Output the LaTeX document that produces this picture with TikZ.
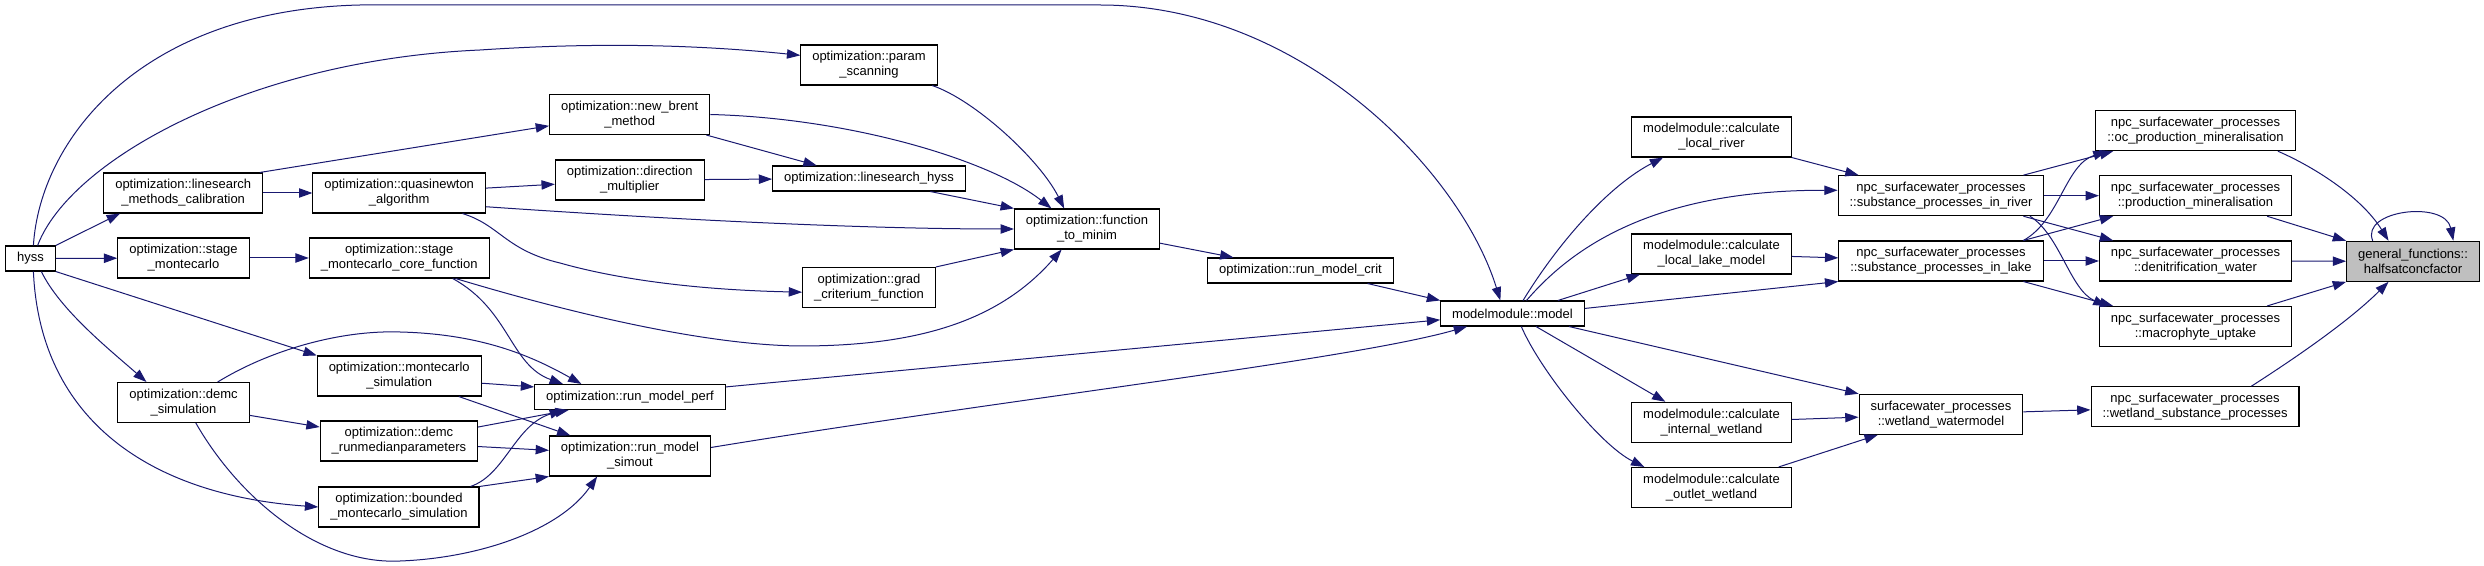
\documentclass[tikz,border=0pt]{standalone}
\usepackage{fontspec}
\setmainfont{Liberation Sans}
\usetikzlibrary{arrows.meta}
\definecolor{edgeblue}{HTML}{191970}
\definecolor{nodegray}{HTML}{BFBFBF}
\newcommand{\optn}{optimization::}
\newcommand{\mmod}{modelmodule::}
\newcommand{\npcs}{npc\_surfacewater\_processes}

\begin{document}
\begin{tikzpicture}[x=0.75pt,y=-0.75pt]
                        \tikzstyle{fn}=[draw, line width=0.8pt, fill=white, align=center, inner xsep=8.6pt, inner ysep=1pt, minimum height=18.75pt, font=\fontsize{9.75pt}{11.25pt}\selectfont]
                        \tikzstyle{fn2}=[fn, minimum height=30pt]
                        \tikzstyle{call}=[edgeblue, line width=0.75pt, -{Triangle[length=10pt,width=7pt]}]
                        \useasboundingbox (0,0) rectangle (2484,566);
                        \node[fn] (hyss) at (30.4,258.5) {hyss};
                        \node[fn2] (lscal) at (183.2,193) {\optn linesearch\\\_methods\_calibration};
                        \node[fn2] (smc) at (183.5,258) {\optn stage\\\_montecarlo};
                        \node[fn2] (demc) at (183.5,402.5) {\optn demc\\\_simulation};
                        \node[fn2] (qnewton) at (399.2,193) {\optn quasinewton\\\_algorithm};
                        \node[fn2] (smccore) at (399.2,258) {\optn stage\\\_montecarlo\_core\_function};
                        \node[fn2] (mcsim) at (399.2,376) {\optn montecarlo\\\_simulation};
                        \node[fn2] (demcmed) at (398.9,441) {\optn demc\\\_runmedianparameters};
                        \node[fn2] (bmcsim) at (398.9,507) {\optn bounded\\\_montecarlo\_simulation};
                        \node[fn2] (brent) at (629.7,114.5) {\optn new\_brent\\\_method};
                        \node[fn2] (dirmult) at (629.7,180) {\optn direction\\\_multiplier};
                        \node[fn] (perf) at (630,397) {\optn run\_model\_perf};
                        \node[fn2] (simout) at (630,456) {\optn run\_model\\\_simout};
                        \node[fn2] (pscan) at (869,65) {\optn param\\\_scanning};
                        \node[fn] (lshyss) at (869,178.5) {\optn linesearch\_hyss};
                        \node[fn2] (gradcrit) at (869,287.5) {\optn grad\\\_criterium\_function};
                        \node[fn2] (fmin) at (1087,229) {\optn function\\\_to\_minim};
                        \node[fn] (crit) at (1300.5,270.5) {\optn run\_model\_crit};
                        \node[fn] (model) at (1512.5,313.5) {\mmod model};
                        \node[fn2] (lriver) at (1711.5,137) {\mmod calculate\\\_local\_river};
                        \node[fn2] (llake) at (1711.5,254) {\mmod calculate\\\_local\_lake\_model};
                        \node[fn2] (iwet) at (1711.5,422.3) {\mmod calculate\\\_internal\_wetland};
                        \node[fn2] (owet) at (1711.5,487.5) {\mmod calculate\\\_outlet\_wetland};
                        \node[fn2] (sriver) at (1941,195.7) {\npcs\\::substance\_processes\_in\_river};
                        \node[fn2] (slake) at (1941,261) {\npcs\\::substance\_processes\_in\_lake};
                        \node[fn2] (wwater) at (1941,414.3) {surfacewater\_processes\\::wetland\_watermodel};
                        \node[fn2] (ocprod) at (2195.5,130.7) {\npcs\\::oc\_production\_mineralisation};
                        \node[fn2] (prodmin) at (2195.5,195.7) {\npcs\\::production\_mineralisation};
                        \node[fn2] (denit) at (2195.5,261) {\npcs\\::denitrification\_water};
                        \node[fn2] (macro) at (2195.5,326.5) {\npcs\\::macrophyte\_uptake};
                        \node[fn2] (wsub) at (2195,406.7) {\npcs\\::wetland\_substance\_processes};
                        \node[fn2, fill=nodegray] (halfsat) at (2413,261.3) {general\_functions::\\halfsatconcfactor};
                        \draw[call] (hyss.77) .. controls (40,140) and (140,10) .. (360,5) -- (1100,5) .. controls (1300,5) and (1460,170) .. (model.133);
                        \draw[call] (hyss.61) .. controls (70,160) and (250,60) .. (480,50) .. controls (600,42) and (700,45) .. (pscan.172);
                        \draw[call] (hyss.north east) -- (lscal.-162);
                        \draw[call] (hyss) -- (smc);
                        \draw[call] (hyss.-50) .. controls (60,310) and (110,350) .. (demc.151);
                        \draw[call] (hyss.south east) -- (mcsim.north west);
                        \draw[call] (hyss.-77) .. controls (40,420) and (150,495) .. (bmcsim.west);
                        \draw[call] (lscal) -- (qnewton);
                        \draw[call] (lscal.15) -- (brent.-172);
                        \draw[call] (qnewton) -- (dirmult);
                        \draw[call] (qnewton.-9) .. controls (650,218) and (850,229) .. (fmin.west);
                        \draw[call] (qnewton.-18) .. controls (500,225) and (505,250) .. (560,263) .. controls (620,280) and (700,290) .. (gradcrit.-176);
                        \draw[call] (brent.east) .. controls (850,118) and (990,160) .. (fmin.150);
                        \draw[call] (brent.-15) -- (lshyss.166);
                        \draw[call] (dirmult) -- (lshyss);
                        \draw[call] (pscan.-18) .. controls (975,100) and (1040,160) .. (fmin.138);
                        \draw[call] (lshyss.-12) -- (fmin.north west);
                        \draw[call] (gradcrit.north east) -- (fmin.south west);
                        \draw[call] (smc) -- (smccore);
                        \draw[call] (smccore.-20) .. controls (560,310) and (700,345) .. (800,346) .. controls (920,346) and (1000,320) .. (fmin.-141);
                        \draw[call] (smccore.-21) .. controls (510,310) and (510,365) .. (perf.169);
                        \draw[call] (demc.31) .. controls (270,350) and (340,330) .. (400,332) .. controls (480,334) and (530,355) .. (perf.165);
                        \draw[call] (demc.-11) -- (demcmed.170);
                        \draw[call] (demc.-59) .. controls (240,500) and (320,565) .. (400,561) .. controls (480,558) and (560,530) .. (simout.-148);
                        \draw[call] (mcsim.-5) -- (perf.174);
                        \draw[call] (mcsim.-19) -- (simout.161);
                        \draw[call] (demcmed.10) -- (perf.-168);
                        \draw[call] (demcmed.-4) -- (simout.176);
                        \draw[call] (bmcsim.16) .. controls (505,475) and (515,425) .. (perf.-169);
                        \draw[call] (bmcsim.north east) -- (simout.south west);
                        \draw[call] (perf.6) -- (model.-175);
                        \draw[call] (simout.6) .. controls (1000,400) and (1350,360) .. (model.-164);
                        \draw[call] (fmin.-11) -- (crit.169);
                        \draw[call] (crit.-11) -- (model.north west);
                        \draw[call] (model.51) .. controls (1560,240) and (1610,185) .. (lriver.-157);
                        \draw[call] (model.43) .. controls (1570,250) and (1650,190) .. (sriver.177);
                        \draw[call] (model.16) -- (llake.-164);
                        \draw[call] (model.4) -- (slake.south west);
                        \draw[call] (model.-13) -- (wwater.north west);
                        \draw[call] (model.-29) -- (iwet.156);
                        \draw[call] (model.-56) .. controls (1540,370) and (1600,445) .. (owet.163);
                        \draw[call] (lriver.south east) -- (sriver.166);
                        \draw[call] (llake) -- (slake);
                        \draw[call] (iwet) -- (wwater);
                        \draw[call] (owet.17) -- (wwater.-162);
                        \draw[call] (wwater) -- (wsub);
                        \draw[call] (sriver.14) -- (ocprod.-166);
                        \draw[call] (sriver) -- (prodmin);
                        \draw[call] (sriver.-14) -- (denit.166);
                        \draw[call] (sriver.-13) .. controls (2060,235) and (2070,290) .. (macro.167);
                        \draw[call] (slake.14) .. controls (2060,220) and (2065,165) .. (ocprod.-167);
                        \draw[call] (slake.14) -- (prodmin.-166);
                        \draw[call] (slake) -- (denit);
                        \draw[call] (slake.-14) -- (macro.166);
                        \draw[call] (ocprod.-14) .. controls (2310,165) and (2360,195) .. (halfsat.140);
                        \draw[call] (prodmin.-16) -- (halfsat.north west);
                        \draw[call] (denit) -- (halfsat);
                        \draw[call] (macro.16) -- (halfsat.south west);
                        \draw[call] (wsub.20) .. controls (2300,355) and (2350,320) .. (halfsat.-140);
                        \draw[call] (halfsat.153) .. controls (2360,210) and (2445,200) .. (halfsat.27);
                    \end{tikzpicture}
\end{document}
